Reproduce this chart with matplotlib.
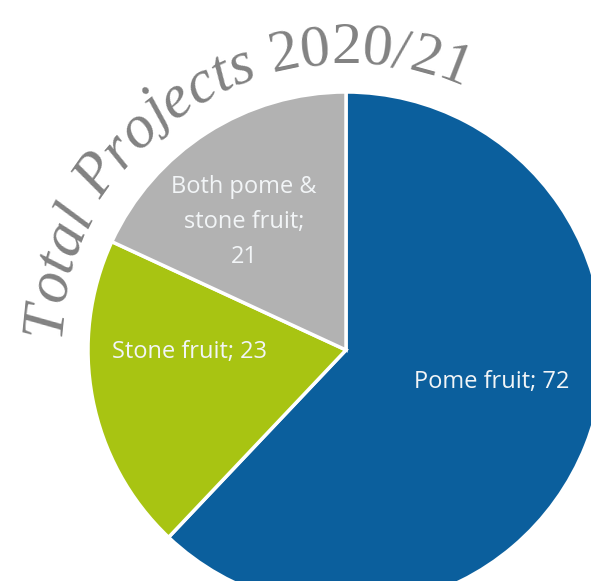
import numpy as np
import matplotlib
matplotlib.use("Agg")
import matplotlib.pyplot as plt
from matplotlib.font_manager import FontProperties

categories = ["Pome fruit", "Stone fruit", "Both pome &\nstone fruit;\n"]
values = [72, 23, 21]
labels = ["Pome fruit; 72", "Stone fruit; 23", "Both pome &\nstone fruit;\n21"]
colors = ["#0b5f9d", "#a8c412", "#b2b2b2"]
title_script = "Total Projects "
title_year = "2020/21"

W, H = 591, 581
fig = plt.figure(figsize=(W / 100, H / 100), dpi=100)
ax = fig.add_axes([0, 0, 1, 1])

cx, cy, R = 346, H - 350, 258
wedges, _ = ax.pie(values, colors=colors, startangle=90, counterclock=False,
                   center=(cx, cy), radius=R, frame=True,
                   wedgeprops=dict(edgecolor="white", linewidth=2.5))
ax.set_xlim(0, W)
ax.set_ylim(0, H)
ax.set_aspect("equal")
ax.axis("off")

lab_font = "Open Sans"
label_pos = [(492, H - 382), (189, H - 352), (244, H - 222)]
for lab, (x, y) in zip(labels, label_pos):
    ax.text(x, y, lab, color="#f2f5f7", fontsize=17, family=lab_font,
            ha="center", va="center", linespacing=1.62)

# curved title
fig.canvas.draw()
renderer = fig.canvas.get_renderer()

def text_width(s, fp):
    t = ax.text(0, 0, s, fontproperties=fp)
    w = t.get_window_extent(renderer).width
    t.remove()
    return w

fp_script = FontProperties(family="Liberation Serif", style="italic", size=44)
fp_year = FontProperties(family="Liberation Serif", size=43)

chars = []
for s, fp in [(title_script, fp_script), (title_year, fp_year)]:
    for ch in s:
        if ch == " ":
            w = text_width("x x", fp) - text_width("xx", fp)
        else:
            w = text_width("x" + ch + "x", fp) - text_width("xx", fp)
        chars.append((ch, fp, w))

Rt = 287
theta = np.deg2rad(177.5)
for ch, fp, w in chars:
    half = (w / 2) / Rt
    a = theta - half
    x = cx + Rt * np.cos(a)
    y = cy + Rt * np.sin(a)
    if ch != " ":
        ax.text(x, y, ch, fontproperties=fp, color="#828282",
                rotation=np.rad2deg(a) - 90, rotation_mode="anchor",
                ha="center", va="baseline")
    theta -= w / Rt

fig.savefig("out.png", dpi=100, facecolor="white")
